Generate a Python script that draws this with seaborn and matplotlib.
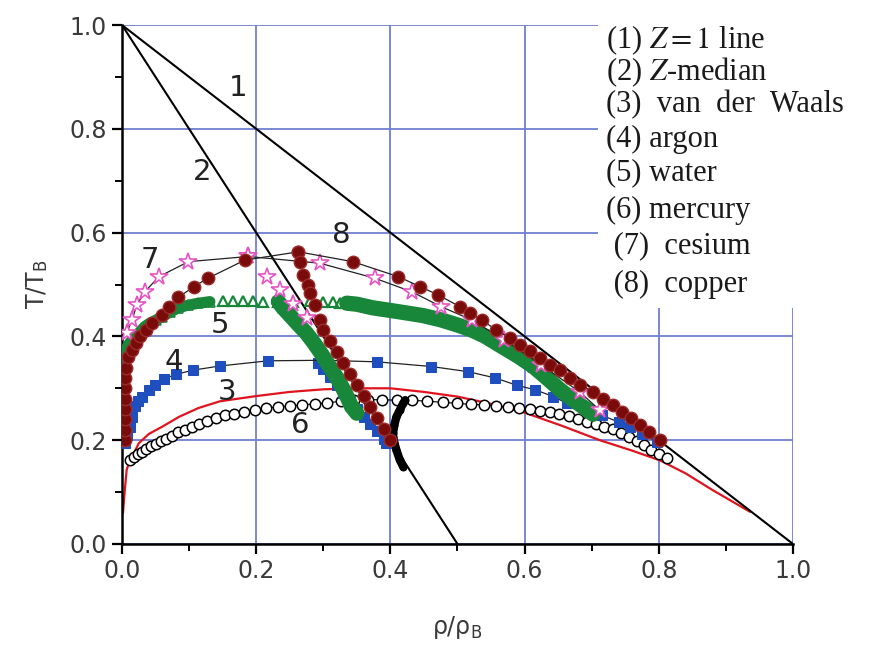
import matplotlib
matplotlib.use("Agg")
import numpy as np
import matplotlib.pyplot as plt
import seaborn as sns
from matplotlib.ticker import MultipleLocator, FormatStrFormatter
from matplotlib.patches import Rectangle

# ---- data (rho/rho_B, T/T_B) ----
z1_x = [0.0, 1.0]
z1_y = [1.0, 0.0]
zmed_x = [0.0, 0.5]
zmed_y = [1.0, 0.0]

vdw_x = [0.0015, 0.003, 0.005, 0.007, 0.011, 0.016, 0.025, 0.04, 0.06, 0.085, 0.114, 0.146, 0.2, 0.25,
         0.3, 0.35, 0.4, 0.45, 0.5, 0.55, 0.598, 0.653, 0.712, 0.76, 0.802, 0.84, 0.88, 0.936]
vdw_y = [0.06, 0.085, 0.115, 0.143, 0.158, 0.17, 0.194, 0.212, 0.226, 0.245, 0.262, 0.275, 0.285, 0.293,
         0.298, 0.3, 0.3, 0.293, 0.284, 0.27, 0.254, 0.229, 0.2, 0.18, 0.161, 0.136, 0.104, 0.062]

argon_x = [0.005, 0.008, 0.012, 0.015, 0.019, 0.024, 0.030, 0.040, 0.049, 0.062, 0.081, 0.106, 0.146, 0.218,
           0.300, 0.380, 0.461, 0.516, 0.556, 0.588, 0.616, 0.643, 0.663, 0.690, 0.715, 0.740, 0.757, 0.775, 0.797]
argon_y = [0.194, 0.210, 0.226, 0.245, 0.265, 0.276, 0.284, 0.297, 0.306, 0.318, 0.327, 0.335, 0.343, 0.353,
           0.354, 0.351, 0.342, 0.332, 0.320, 0.306, 0.297, 0.284, 0.271, 0.260, 0.248, 0.235, 0.226, 0.212, 0.197]
argon_diam_x = [0.292, 0.30, 0.31, 0.32, 0.33, 0.34, 0.35, 0.36, 0.37, 0.38, 0.39, 0.394]
argon_diam_y = [0.349, 0.337, 0.322, 0.307, 0.291, 0.276, 0.26, 0.245, 0.232, 0.217, 0.202, 0.194]

water_gas_x = [0.002, 0.004, 0.006, 0.010, 0.015, 0.020, 0.026, 0.034, 0.042, 0.050, 0.060, 0.072, 0.084,
               0.098, 0.114, 0.131]
water_gas_y = [0.361, 0.368, 0.375, 0.385, 0.393, 0.400, 0.408, 0.419, 0.426, 0.431, 0.438, 0.447, 0.455,
               0.460, 0.464, 0.467]
water_top_x = [0.150, 0.165, 0.180, 0.195, 0.210, 0.233, 0.255, 0.280, 0.300, 0.315, 0.325, 0.335]
water_top_y = [0.468, 0.469, 0.469, 0.468, 0.467, 0.467, 0.467, 0.468, 0.467, 0.466, 0.465, 0.464]
water_liq_x = [0.335, 0.35, 0.374, 0.40, 0.425, 0.449, 0.475, 0.50, 0.52, 0.54, 0.563, 0.59, 0.613, 0.633,
               0.653, 0.672, 0.692, 0.702]
water_liq_y = [0.464, 0.462, 0.455, 0.45, 0.445, 0.44, 0.432, 0.422, 0.413, 0.401, 0.383, 0.362, 0.342, 0.32,
               0.297, 0.278, 0.26, 0.25]
water_diam_x = [0.233, 0.24, 0.25, 0.262, 0.275, 0.288, 0.30, 0.312, 0.325, 0.335, 0.342, 0.35]
water_diam_y = [0.467, 0.455, 0.441, 0.424, 0.406, 0.384, 0.361, 0.337, 0.31, 0.285, 0.265, 0.252]

mercury_x = [0.012, 0.018, 0.024, 0.030, 0.036, 0.043, 0.050, 0.058, 0.066, 0.075, 0.084, 0.094, 0.104, 0.115,
             0.127, 0.140, 0.153, 0.167, 0.182, 0.198, 0.215, 0.232, 0.250, 0.268, 0.287, 0.306, 0.326, 0.346,
             0.367, 0.388, 0.410, 0.432, 0.455, 0.478, 0.500, 0.520, 0.540, 0.558, 0.575, 0.592, 0.608, 0.623,
             0.638, 0.652, 0.666, 0.680, 0.693, 0.706, 0.719, 0.731, 0.743, 0.755, 0.767, 0.778, 0.789, 0.800, 0.812]
mercury_y = [0.162, 0.168, 0.173, 0.178, 0.183, 0.188, 0.193, 0.198, 0.203, 0.209, 0.215, 0.220, 0.226, 0.232,
             0.237, 0.243, 0.248, 0.251, 0.255, 0.259, 0.262, 0.264, 0.266, 0.268, 0.270, 0.272, 0.275, 0.277,
             0.278, 0.278, 0.277, 0.277, 0.275, 0.273, 0.271, 0.269, 0.268, 0.266, 0.264, 0.262, 0.260, 0.257,
             0.254, 0.250, 0.246, 0.241, 0.236, 0.231, 0.226, 0.221, 0.214, 0.207, 0.199, 0.190, 0.182, 0.174, 0.166]
mercury_diam_x = [0.422, 0.419, 0.414, 0.409, 0.406, 0.404, 0.404, 0.406, 0.409, 0.414, 0.419]
mercury_diam_y = [0.277, 0.271, 0.258, 0.245, 0.23, 0.214, 0.207, 0.195, 0.181, 0.162, 0.149]

cesium_x = [0.007, 0.015, 0.022, 0.034, 0.055, 0.099, 0.188, 0.295, 0.377, 0.432, 0.476, 0.521, 0.57, 0.625,
            0.682, 0.712]
cesium_y = [0.406, 0.432, 0.46, 0.486, 0.515, 0.544, 0.554, 0.541, 0.512, 0.486, 0.457, 0.432, 0.393, 0.345,
            0.293, 0.258]
cesium_diam_x = [0.188, 0.216, 0.235, 0.255, 0.275]
cesium_diam_y = [0.554, 0.514, 0.489, 0.462, 0.435]

copper_x = [0.004, 0.004, 0.004, 0.005, 0.005, 0.005, 0.005, 0.006, 0.009, 0.015, 0.021, 0.027, 0.036, 0.045,
            0.06, 0.07, 0.084, 0.107, 0.128, 0.183, 0.263, 0.344, 0.412, 0.444, 0.471, 0.504, 0.519, 0.536,
            0.558, 0.578, 0.593, 0.608, 0.623, 0.638, 0.653, 0.668, 0.683, 0.702, 0.717, 0.732, 0.745, 0.758,
            0.772, 0.786, 0.802]
copper_y = [0.20, 0.22, 0.24, 0.26, 0.28, 0.30, 0.32, 0.34, 0.36, 0.374, 0.388, 0.40, 0.413, 0.425,
            0.441, 0.456, 0.475, 0.496, 0.512, 0.547, 0.563, 0.544, 0.515, 0.496, 0.48, 0.457, 0.445, 0.432,
            0.412, 0.397, 0.383, 0.371, 0.358, 0.345, 0.335, 0.32, 0.307, 0.293, 0.28, 0.268, 0.255, 0.243,
            0.23, 0.215, 0.2]
copper_diam_x = [0.263, 0.265, 0.27, 0.277, 0.28, 0.288, 0.295, 0.30, 0.31, 0.32, 0.33, 0.34, 0.35, 0.36,
                 0.37, 0.38, 0.39, 0.40]
copper_diam_y = [0.563, 0.544, 0.518, 0.499, 0.483, 0.46, 0.432, 0.412, 0.391, 0.37, 0.348, 0.327, 0.306,
                 0.285, 0.264, 0.242, 0.221, 0.2]

curve_numbers = ["1", "2", "3", "4", "5", "6", "7", "8"]
number_x = [0.173, 0.119, 0.156, 0.077, 0.146, 0.265, 0.042, 0.327]
number_y = [0.879, 0.717, 0.293, 0.351, 0.422, 0.229, 0.547, 0.595]

legend_lines = ["(1) $Z=1$ line", "(2) $Z$-median", "(3)  van  der  Waals", "(4) argon",
                "(5) water", "(6) mercury", " (7)  cesium", " (8)  copper"]

sns.set_theme(style="white")
plt.rcParams["font.family"] = ["DejaVu Sans"]
plt.rcParams["mathtext.fontset"] = "stix"

fig, ax = plt.subplots(figsize=(8.75, 6.5), dpi=100)
fig.subplots_adjust(left=0.1394, right=0.9063, bottom=0.1631, top=0.9615)


def curve(x, y, z, **kw):
    sns.lineplot(x=x, y=y, ax=ax, sort=False, estimator=None, legend=False, zorder=z, **kw)


# reference lines
curve(z1_x, z1_y, 3, color="black", linewidth=1.5)
curve(zmed_x, zmed_y, 3, color="black", linewidth=1.5)

# van der Waals
curve(vdw_x, vdw_y, 2, color="#e0141e", linewidth=1.6)

# mercury
curve(mercury_x, mercury_y, 4, color="black", linewidth=0.8, marker="o", ms=7.5, mfc="white", mec="black", mew=1.1)
curve(mercury_diam_x, mercury_diam_y, 4, color="black", linewidth=6, marker="o", ms=5, mfc="black", mec="black")

# argon
blue = "#1f4fbf"
curve(argon_diam_x, argon_diam_y, 5, color=blue, linewidth=0, marker="s", ms=7.5, mfc=blue, mec=blue)
curve(argon_x, argon_y, 5, color="#222222", linewidth=0.9, marker="s", ms=7.5, mfc=blue, mec=blue)

# water
green = "#18873a"
curve(water_gas_x, water_gas_y, 6, color=green, linewidth=8, marker="^", ms=7, mfc="none", mec=green, mew=1.2)
curve(water_top_x, water_top_y, 6, color=green, linewidth=0, marker="^", ms=7.5, mfc="none", mec=green, mew=1.6)
curve(water_liq_x, water_liq_y, 6, color=green, linewidth=11, marker="^", ms=7, mfc="none", mec=green, mew=1.2)
curve(water_diam_x, water_diam_y, 6, color=green, linewidth=11, marker="^", ms=7, mfc="none", mec=green, mew=1.2)

# cesium
pink = "#e654c4"
curve(cesium_x, cesium_y, 7, color="#222222", linewidth=0.9, marker="*", ms=13, mfc="white", mec=pink, mew=1.2)
curve(cesium_diam_x, cesium_diam_y, 7, color=pink, linewidth=0, marker="*", ms=13, mfc="white", mec=pink, mew=1.2)

# copper
maroon = "#7a0b0b"
curve(copper_x, copper_y, 8, color="#222222", linewidth=0.9, marker="o", ms=9, mfc=maroon, mec="#9c2b2b", mew=1.0)
curve(copper_diam_x, copper_diam_y, 8, color=maroon, linewidth=0, marker="o", ms=9, mfc=maroon, mec="#9c2b2b",
      mew=1.0)

for s, tx, ty in zip(curve_numbers, number_x, number_y):
    ax.text(tx, ty, s, fontsize=21, color="#222222", ha="center", va="center", zorder=9)

ax.set_xlim(0, 1)
ax.set_ylim(0, 1)
ax.xaxis.set_major_locator(MultipleLocator(0.2))
ax.yaxis.set_major_locator(MultipleLocator(0.2))
ax.xaxis.set_minor_locator(MultipleLocator(0.1))
ax.yaxis.set_minor_locator(MultipleLocator(0.1))
ax.xaxis.set_major_formatter(FormatStrFormatter("%.1f"))
ax.yaxis.set_major_formatter(FormatStrFormatter("%.1f"))
ax.tick_params(which="major", direction="out", length=7, width=1.6, color="black",
               labelsize=17, labelcolor="#3a3a3a", pad=4)
ax.tick_params(which="minor", direction="out", length=5, width=1.4, color="black")
ax.tick_params(axis="x", which="both", bottom=True)
ax.tick_params(axis="y", which="both", left=True)

ax.grid(True, which="major", color="#6f7fd0", lw=1.3)
ax.set_axisbelow(True)
for gl in (ax.get_xgridlines()[0], ax.get_xgridlines()[-1], ax.get_ygridlines()[0], ax.get_ygridlines()[-1]):
    gl.set_visible(False)

for side in ("top", "right"):
    ax.spines[side].set_visible(False)
for side in ("left", "bottom"):
    ax.spines[side].set_color("black")
    ax.spines[side].set_linewidth(1.8)

ax.set_xlabel(r"$\mathregular{\rho/\rho_B}$", fontsize=17, color="#3a3a3a", labelpad=22)
ax.set_ylabel(r"T/T$_\mathregular{B}$", fontsize=17, color="#3a3a3a", labelpad=14)

# legend block: white panel over the grid with serif text
fig.add_artist(Rectangle((598 / 875, 1 - 308 / 650), 277 / 875, 308 / 650, transform=fig.transFigure,
                         facecolor="white", edgecolor="none", zorder=5))
legend_y = [40, 72, 105, 139, 173, 210, 246, 284]
for s, py in zip(legend_lines, legend_y):
    fig.text(606 / 875, 1 - py / 650, s, fontsize=22, family="Liberation Serif", color="#1a1a1a",
             va="center", ha="left", zorder=6)

fig.savefig("out.png", dpi=100)
